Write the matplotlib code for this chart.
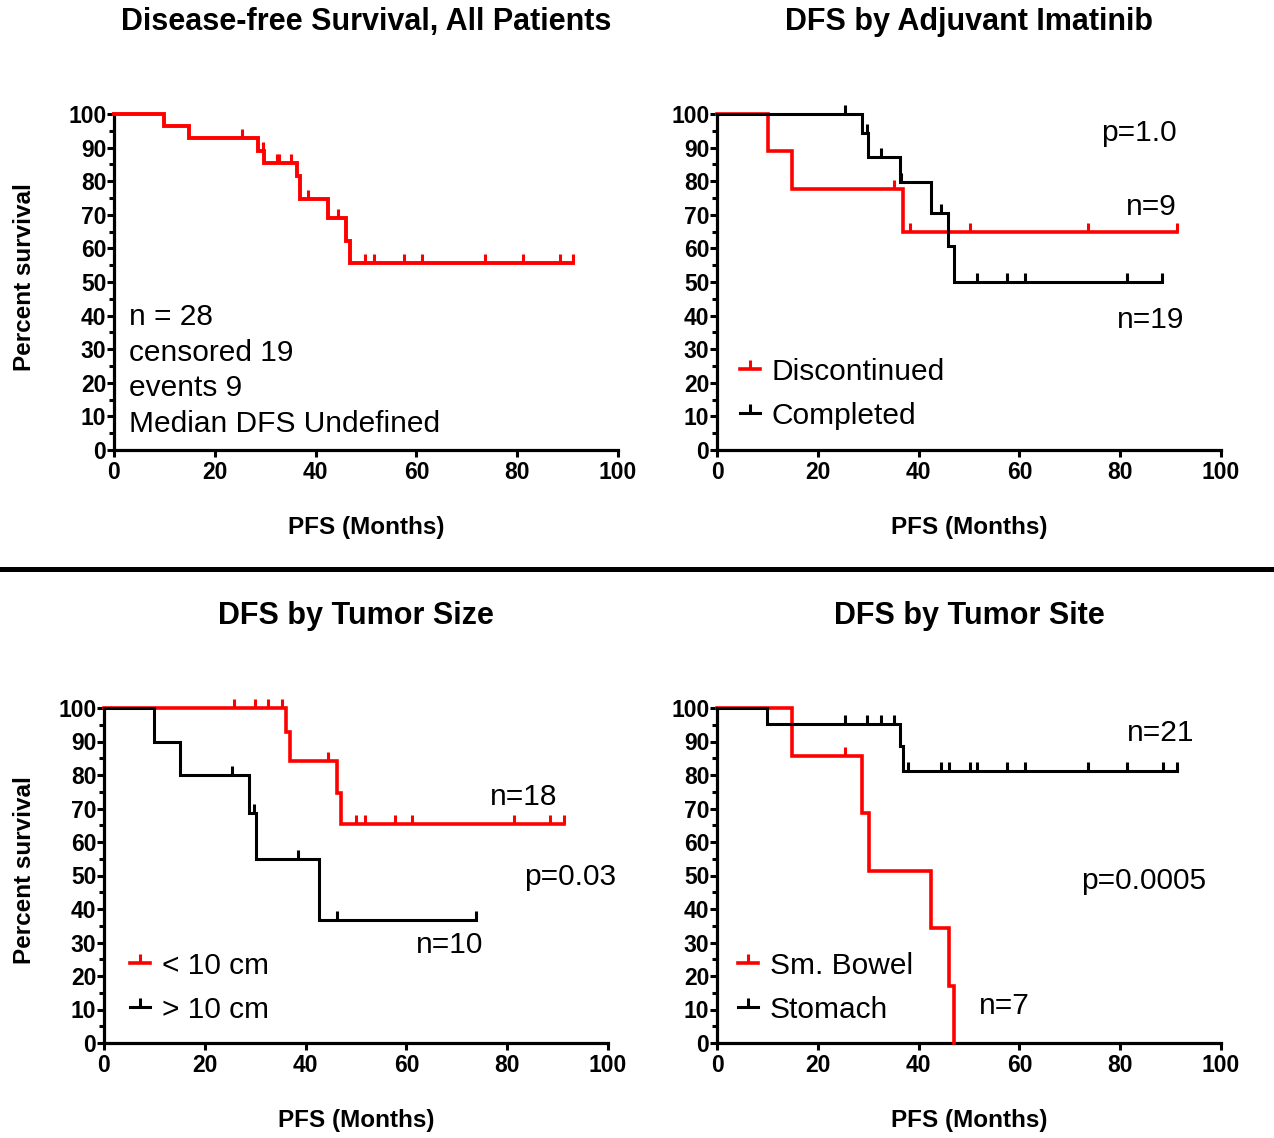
import numpy as np
import matplotlib
matplotlib.use("Agg")
import matplotlib.pyplot as plt
from matplotlib.lines import Line2D
from matplotlib.markers import TICKUP

plt.rcParams['font.family'] = ['Liberation Sans', 'DejaVu Sans']

# ---------------- data (months, percent survival) ----------------
# All patients
all_event_t = [10.0, 14.9, 28.6, 29.8, 36.4, 36.9, 42.5, 46.0, 46.8]
all_event_s = [96.4, 92.9, 89.1, 85.3, 81.4, 74.6, 69.0, 62.3, 55.6]
all_cens_t = [25.3, 29.6, 32.3, 32.7, 35.2, 38.4, 44.4, 49.9, 51.6, 57.6,
              61.1, 73.7, 81.2, 88.4, 91.1]
all_end = 91.1

# Adjuvant imatinib
disc_event_t = [10.1, 14.9, 37.0]
disc_event_s = [88.9, 77.8, 64.8]
disc_cens_t = [35.2, 38.3, 50.1, 73.6, 91.2]
disc_end = 91.2

comp_event_t = [28.8, 30.0, 36.4, 42.5, 45.9, 47.1]
comp_event_s = [94.2, 87.3, 79.9, 70.4, 60.7, 50.1]
comp_cens_t = [25.4, 29.7, 32.5, 36.6, 44.4, 51.5, 57.6, 61.1, 81.3, 88.2]
comp_end = 88.2

# Tumor size
small_event_t = [36.2, 37.0, 46.2, 47.0]
small_event_s = [92.9, 84.2, 74.5, 65.3]
small_cens_t = [25.7, 30.0, 32.6, 35.3, 44.5, 50.0, 51.7, 57.7, 61.2, 81.3,
                88.5, 91.3]
small_end = 91.3

large_event_t = [10.0, 15.1, 28.7, 30.1, 42.7]
large_event_s = [90.0, 80.0, 68.6, 54.9, 36.6]
large_cens_t = [25.3, 29.8, 38.5, 46.2, 73.8]
large_end = 73.8

# Tumor site
bowel_event_t = [14.9, 28.8, 30.2, 42.5, 46.0, 47.1]
bowel_event_s = [85.7, 68.6, 51.4, 34.3, 17.1, 0.0]
bowel_cens_t = [25.3]
bowel_end = 47.1

stom_event_t = [10.0, 36.3, 37.0]
stom_event_s = [95.2, 88.7, 81.3]
stom_cens_t = [25.4, 29.7, 32.5, 35.2, 37.9, 44.4, 46.1, 50.1, 51.5, 57.6,
               61.1, 73.7, 81.3, 88.4, 91.2]
stom_end = 91.2

titles = ["Disease-free Survival, All Patients", "DFS by Adjuvant Imatinib",
          "DFS by Tumor Size", "DFS by Tumor Site"]
x_ticks = [0, 20, 40, 60, 80, 100]
y_ticks = [0, 10, 20, 30, 40, 50, 60, 70, 80, 90, 100]

RED = "#ff0000"
BLACK = "#000000"
TXT = 21.5

W, H = 1274, 1138
fig = plt.figure(figsize=(W / 100, H / 100), dpi=100)


def add_axes(left, top, right, bottom):
    return fig.add_axes([left / W, 1 - bottom / H, (right - left) / W, (bottom - top) / H])


def km(ax, ev_t, ev_s, cens_t, end, color, lw, label=None):
    t = np.concatenate([[0.0], ev_t, [end]])
    s = np.concatenate([[100.0], ev_s, [ev_s[-1]]])
    ax.step(t, s, where="post", color=color, lw=lw, clip_on=False,
            solid_joinstyle="miter", zorder=3)
    idx = np.searchsorted(np.asarray(ev_t), np.asarray(cens_t), side="right")
    levels = np.concatenate([[100.0], ev_s])[idx]
    ax.plot(cens_t, levels, ls="none", marker=TICKUP, ms=6.5, mew=2.2,
            color=color, clip_on=False, zorder=3)
    return Line2D([], [], color=color, lw=lw, marker=TICKUP, ms=6.5, mew=2.2,
                  label=label)


def style(ax, title, ylabel, ylab_x):
    ax.set_xlim(0, 100)
    ax.set_ylim(0, 100)
    for side in ("top", "right"):
        ax.spines[side].set_visible(False)
    for side in ("left", "bottom"):
        ax.spines[side].set_linewidth(2.3)
    ax.set_xticks(x_ticks)
    ax.set_yticks(y_ticks)
    ax.set_yticks(np.arange(5, 100, 10), minor=True)
    ax.tick_params(axis="both", which="major", direction="out", length=5,
                   width=2.2, labelsize=16.5)
    ax.tick_params(axis="y", which="major", pad=0.5)
    ax.tick_params(axis="x", which="major", pad=3)
    ax.tick_params(axis="y", which="minor", direction="out", length=3.5, width=2.2)
    for lab in ax.get_xticklabels() + ax.get_yticklabels():
        lab.set_fontweight("bold")
    ax.text(0.5, 1.275, title, transform=ax.transAxes, ha="center", va="center",
            fontsize=22, fontweight="bold")
    ax.set_xlabel("PFS (Months)", fontsize=17.5, fontweight="bold")
    ax.xaxis.set_label_coords(0.5, -0.23)
    ax.xaxis.label.set_va("center")
    if ylabel:
        ax.set_ylabel("Percent survival", fontsize=17.5, fontweight="bold")
        ax.yaxis.set_label_coords(ylab_x, 0.515)
        ax.yaxis.label.set_va("center")


def legend(ax, handles, x, y):
    ax.legend(handles=handles, loc="upper left", bbox_to_anchor=(x, y),
              frameon=False, fontsize=TXT, handlelength=0.66, handletextpad=0.4,
              labelspacing=0.53, borderpad=0, borderaxespad=0, numpoints=1)


# Panel 1: all patients
ax1 = add_axes(114, 114, 618, 450)
km(ax1, all_event_t, all_event_s, all_cens_t, all_end, RED, 2.8)
style(ax1, titles[0], True, -0.177)
for txt, yy in zip(["n = 28", "censored 19", "events 9", "Median DFS Undefined"],
                   [39.6, 28.9, 18.4, 7.7]):
    ax1.text(3.0, yy, txt, fontsize=TXT, va="center", ha="left")

# Panel 2: adjuvant imatinib
ax2 = add_axes(717, 114, 1221, 450)
h_disc = km(ax2, disc_event_t, disc_event_s, disc_cens_t, disc_end, RED, 2.6, "Discontinued")
h_comp = km(ax2, comp_event_t, comp_event_s, comp_cens_t, comp_end, BLACK, 2.2, "Completed")
style(ax2, titles[1], False, 0)
ax2.text(91.3, 94.2, "p=1.0", fontsize=TXT, ha="right", va="center")
ax2.text(91.3, 72.2, "n=9", fontsize=TXT, ha="right", va="center")
ax2.text(92.7, 38.6, "n=19", fontsize=TXT, ha="right", va="center")
legend(ax2, [h_disc, h_comp], 0.046, 0.274)

# Panel 3: tumor size
ax3 = add_axes(104, 708, 608, 1043)
h_small = km(ax3, small_event_t, small_event_s, small_cens_t, small_end, RED, 2.6, "< 10 cm")
h_large = km(ax3, large_event_t, large_event_s, large_cens_t, large_end, BLACK, 2.2, "> 10 cm")
style(ax3, titles[2], True, -0.157)
ax3.text(89.9, 73.3, "n=18", fontsize=TXT, ha="right", va="center")
ax3.text(101.6, 49.5, "p=0.03", fontsize=TXT, ha="right", va="center")
ax3.text(75.2, 29.2, "n=10", fontsize=TXT, ha="right", va="center")
legend(ax3, [h_small, h_large], 0.052, 0.272)

# Panel 4: tumor site
ax4 = add_axes(717, 708, 1221, 1043)
h_bowel = km(ax4, bowel_event_t, bowel_event_s, bowel_cens_t, bowel_end, RED, 2.6, "Sm. Bowel")
h_stom = km(ax4, stom_event_t, stom_event_s, stom_cens_t, stom_end, BLACK, 2.2, "Stomach")
style(ax4, titles[3], False, 0)
ax4.text(94.8, 92.4, "n=21", fontsize=TXT, ha="right", va="center")
ax4.text(97.0, 48.3, "p=0.0005", fontsize=TXT, ha="right", va="center")
ax4.text(62.1, 10.9, "n=7", fontsize=TXT, ha="right", va="center")
legend(ax4, [h_bowel, h_stom], 0.042, 0.272)

# divider between the two rows
fig.add_artist(Line2D([0, 1], [1 - 569 / H, 1 - 569 / H], color="black",
                      lw=3.6, transform=fig.transFigure))

fig.savefig("out.png", dpi=100, facecolor="white")
